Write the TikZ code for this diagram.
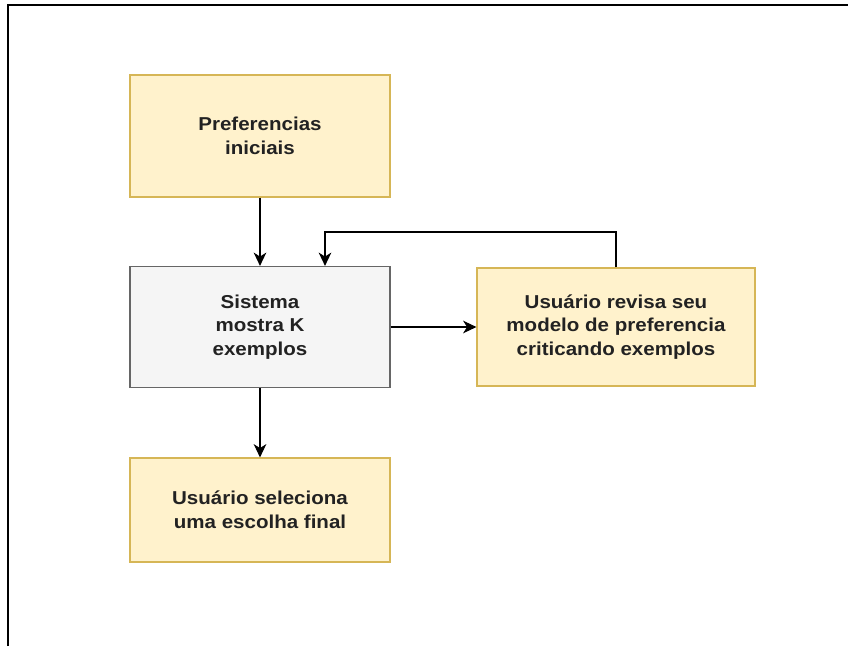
\documentclass[tikz,border=0pt]{standalone}
\usepackage{fontspec}
\setmainfont[FakeStretch=1.1]{Liberation Sans}
\usetikzlibrary{arrows.meta}
\definecolor{noteFill}{HTML}{FFF2CC}
\definecolor{noteLine}{HTML}{D6B656}
\definecolor{sysFill}{HTML}{F5F5F5}
\definecolor{sysLine}{HTML}{666666}
\definecolor{txt}{HTML}{222222}
\begin{document}
\begin{tikzpicture}[x=0.75pt,y=-0.75pt,
  box/.style={draw, line width=0.9pt, inner sep=0pt, align=center,
    text=txt, font=\fontsize{14}{17.8}\selectfont\bfseries},
  note/.style={box, draw=noteLine, fill=noteFill},
  sysbox/.style={box, draw=sysLine, fill=sysFill},
  arr/.style={draw=black, line width=0.8pt, -{Stealth[length=10pt,width=9.5pt,inset=3pt]}}]
  \useasboundingbox (0,0) rectangle (848,646);
  % outer frame: top and left edges only
  \draw[line width=1.1pt] (8,646) -- (8,5) -- (848,5);

  \node[note, minimum width=195pt, minimum height=91.5pt] (pref) at (260,136)
    {Preferencias\\iniciais};
  \node[sysbox, minimum width=195pt, minimum height=90.75pt] (sys) at (260,327)
    {Sistema\\mostra K\\exemplos};
  \node[note, minimum width=208.5pt, minimum height=88.5pt] (rev) at (616,327)
    {Usuário revisa seu\\modelo de preferencia\\criticando exemplos};
  \node[note, minimum width=195pt, minimum height=78pt] (fin) at (260,510)
    {Usuário seleciona\\uma escolha final};

  \draw[arr] (pref) -- (sys);
  \draw[arr] (sys) -- (fin);
  \draw[arr] (sys.east) -- (rev.west);
  \coordinate (loop) at (325,232);
  \draw[arr] (rev.north) |- (loop) -- (loop |- sys.north);
\end{tikzpicture}
\end{document}
